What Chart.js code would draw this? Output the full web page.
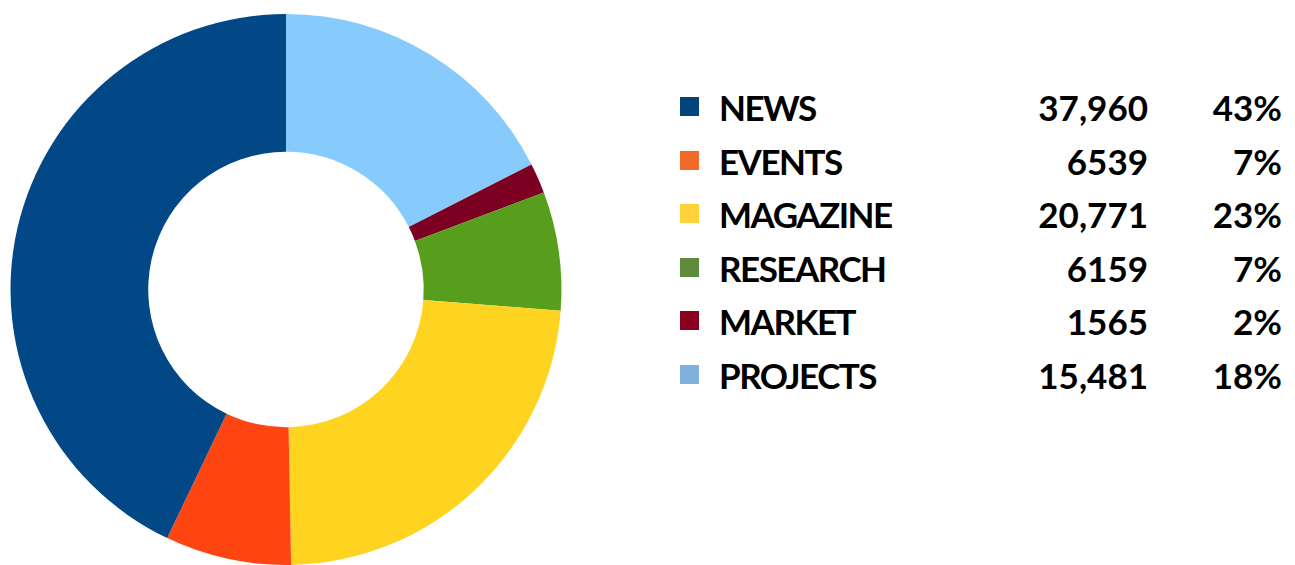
<!DOCTYPE html>
<html>
<head>
<meta charset="utf-8">
<script src="https://cdn.jsdelivr.net/npm/chart.js@4"></script>
<style>
  body { margin: 0; background: #fff; width: 1295px; height: 565px; overflow: hidden; position: relative; }
  #wrap { position: absolute; left: 0; top: 0; width: 572px; height: 565px; }
  #legend { position: absolute; left: 680px; top: 80px; font-family: Lato, sans-serif; font-weight: 700; font-size: 35px; color: #000; }
  .row { position: relative; height: 53.5px; width: 602px; }
  .sw { position: absolute; left: 0; top: 17px; width: 19px; height: 19px; }
  .lab { position: absolute; left: 39px; top: 5px; line-height: 44px; letter-spacing: -1.5px; }
  .val { position: absolute; right: 134px; top: 5px; line-height: 44px; }
  .pct { position: absolute; right: 0; top: 5px; line-height: 44px; }
</style>
</head>
<body>
<div id="wrap"><canvas id="grafica"></canvas></div>
<div id="legend"></div>
<script>
const categorias = ["NEWS", "EVENTS", "MAGAZINE", "RESEARCH", "MARKET", "PROJECTS"]
const valores = [37960, 6539, 20771, 6159, 1565, 15481]
const valoresTexto = ["37,960", "6539", "20,771", "6159", "1565", "15,481"]
const porcentajes = ["43%", "7%", "23%", "7%", "2%", "18%"]
const coloresSlice = ["#024886", "#ff4512", "#ffd420", "#579e1c", "#7b0022", "#87cbfd"]
const coloresLeyenda = ["#03457a", "#f36b2b", "#ffd13a", "#5f8c3c", "#8a0020", "#80b0dd"]

// leyenda en html
const leyenda = document.querySelector("#legend")
categorias.forEach((cat, i) => {
    const fila = document.createElement("div")
    fila.className = "row"
    fila.innerHTML = `<div class="sw" style="background:${coloresLeyenda[i]}"></div>
        <span class="lab">${cat}</span>
        <span class="val">${valoresTexto[i]}</span>
        <span class="pct">${porcentajes[i]}</span>`
    leyenda.appendChild(fila)
})

// la dona va en sentido horario desde arriba, con el orden invertido
const ctx = document.querySelector("#grafica")
new Chart(ctx, {
    type: "doughnut",
    data: {
        labels: categorias.slice().reverse(),
        datasets: [{
            data: valores.slice().reverse(),
            backgroundColor: coloresSlice.slice().reverse(),
            borderWidth: 0
        }]
    },
    options: {
        responsive: true,
        maintainAspectRatio: false,
        animation: false,
        cutout: "50%",
        layout: { padding: { top: 14, bottom: 0 } },
        plugins: {
            legend: { display: false },
            tooltip: { enabled: false }
        }
    }
})
</script>
</body>
</html>
